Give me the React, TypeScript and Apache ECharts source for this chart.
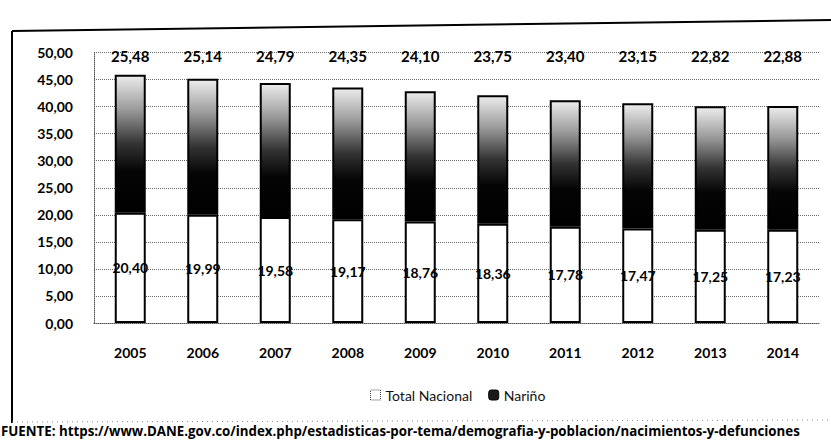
import React, { useEffect, useRef } from "react";
import * as echarts from "echarts";

const years = ["2005", "2006", "2007", "2008", "2009", "2010", "2011", "2012", "2013", "2014"];
const totalNacional = [20.4, 19.99, 19.58, 19.17, 18.76, 18.36, 17.78, 17.47, 17.25, 17.23];
const narino = [25.48, 25.14, 24.79, 24.35, 24.1, 23.75, 23.4, 23.15, 22.82, 22.88];
const yTicks = { min: 0, max: 50, interval: 5 };
const topLabelLevel = 49.3;
const sourceText =
  "FUENTE: https://www.DANE.gov.co/index.php/estadisticas-por-tema/demografia-y-poblacion/nacimientos-y-defunciones";

const fmt = (v: number) => v.toFixed(2).replace(".", ",");
const FONT = "Lato, 'Open Sans', sans-serif";

export default function App() {
  const ref = useRef<HTMLDivElement>(null);
  useEffect(() => {
    if (!ref.current) return;
    const chart = echarts.init(ref.current, undefined, { renderer: "svg" });
    const grad = new echarts.graphic.LinearGradient(0, 0, 0, 1, [
      { offset: 0, color: "#ececec" },
      { offset: 0.25, color: "#9a9a9a" },
      { offset: 0.5, color: "#333333" },
      { offset: 0.7, color: "#050505" },
      { offset: 1, color: "#000000" },
    ]);
    chart.setOption({
      animation: false,
      backgroundColor: "#ffffff",
      grid: { left: 94, right: 12, top: 52.5, bottom: 120, containLabel: false },
      legend: {
        left: 365,
        top: 383,
        itemWidth: 10,
        itemHeight: 10,
        itemGap: 16,
        textStyle: { fontFamily: FONT, fontSize: 14, color: "#111" },
        data: [
          { name: "Total Nacional", icon: "rect", itemStyle: { color: "#fff", borderColor: "#444", borderWidth: 1, borderType: "dotted" } },
          { name: "Nariño", icon: "roundRect", itemStyle: { color: "#1a1a1a", borderColor: "#000", borderWidth: 1 } },
        ],
      },
      xAxis: {
        type: "category",
        data: years,
        axisLine: { show: true, lineStyle: { color: "#555", type: "dotted", width: 1 } },
        axisTick: { show: false },
        axisLabel: { margin: 22, fontFamily: FONT, fontWeight: "bold", fontSize: 14, color: "#000" },
      },
      yAxis: {
        type: "value",
        min: yTicks.min,
        max: yTicks.max,
        interval: yTicks.interval,
        axisLine: { show: true, lineStyle: { color: "#555", type: "dotted", width: 1 } },
        axisTick: { show: false },
        axisLabel: {
          margin: 21,
          formatter: (v: number) => fmt(v),
          fontFamily: FONT,
          fontWeight: "bold",
          fontSize: 14,
          color: "#000",
        },
        splitLine: { show: true, lineStyle: { color: "#666", type: "dotted", width: 1 } },
      },
      series: [
        {
          name: "Total Nacional",
          type: "bar",
          stack: "a",
          barWidth: 31,
          data: totalNacional,
          itemStyle: { color: "#ffffff", borderColor: "#000", borderWidth: 2 },
          label: {
            show: true,
            position: "inside",
            formatter: (p: any) => fmt(p.value),
            fontFamily: FONT,
            fontWeight: "bold",
            fontSize: 14,
            color: "#000",
          },
        },
        {
          name: "Nariño",
          type: "bar",
          stack: "a",
          barWidth: 31,
          data: narino,
          itemStyle: { color: grad, borderColor: "#000", borderWidth: 2 },
        },
        {
          name: "NariñoLabels",
          type: "scatter",
          symbolSize: 0,
          silent: true,
          itemStyle: { opacity: 1 },
          data: narino.map((v, i) => [i, topLabelLevel]),
          label: {
            show: true,
            position: "inside",
            formatter: (p: any) => fmt(narino[p.dataIndex]),
            fontFamily: FONT,
            fontWeight: "bold",
            fontSize: 15,
            color: "#000",
          },
        },
      ],
      graphic: [
        { type: "line", shape: { x1: 12, y1: 31, x2: 12, y2: 423 }, style: { stroke: "#000", lineWidth: 2 } },
        { type: "line", shape: { x1: 12, y1: 31, x2: 831, y2: 20 }, style: { stroke: "#000", lineWidth: 2 } },
        { type: "line", shape: { x1: 12, y1: 422, x2: 831, y2: 420 }, style: { stroke: "#888", lineWidth: 1, lineDash: [1, 4] } },
        {
          type: "text",
          x: 1,
          y: 424,
          style: { text: sourceText, fontFamily: "'Open Sans', sans-serif", fontWeight: "bold", fontSize: 13.3, fill: "#000" },
        },
      ],
    });
    return () => chart.dispose();
  }, []);
  return <div ref={ref} style={{ position: "fixed", left: 0, top: 0, width: 831, height: 443 }} />;
}
